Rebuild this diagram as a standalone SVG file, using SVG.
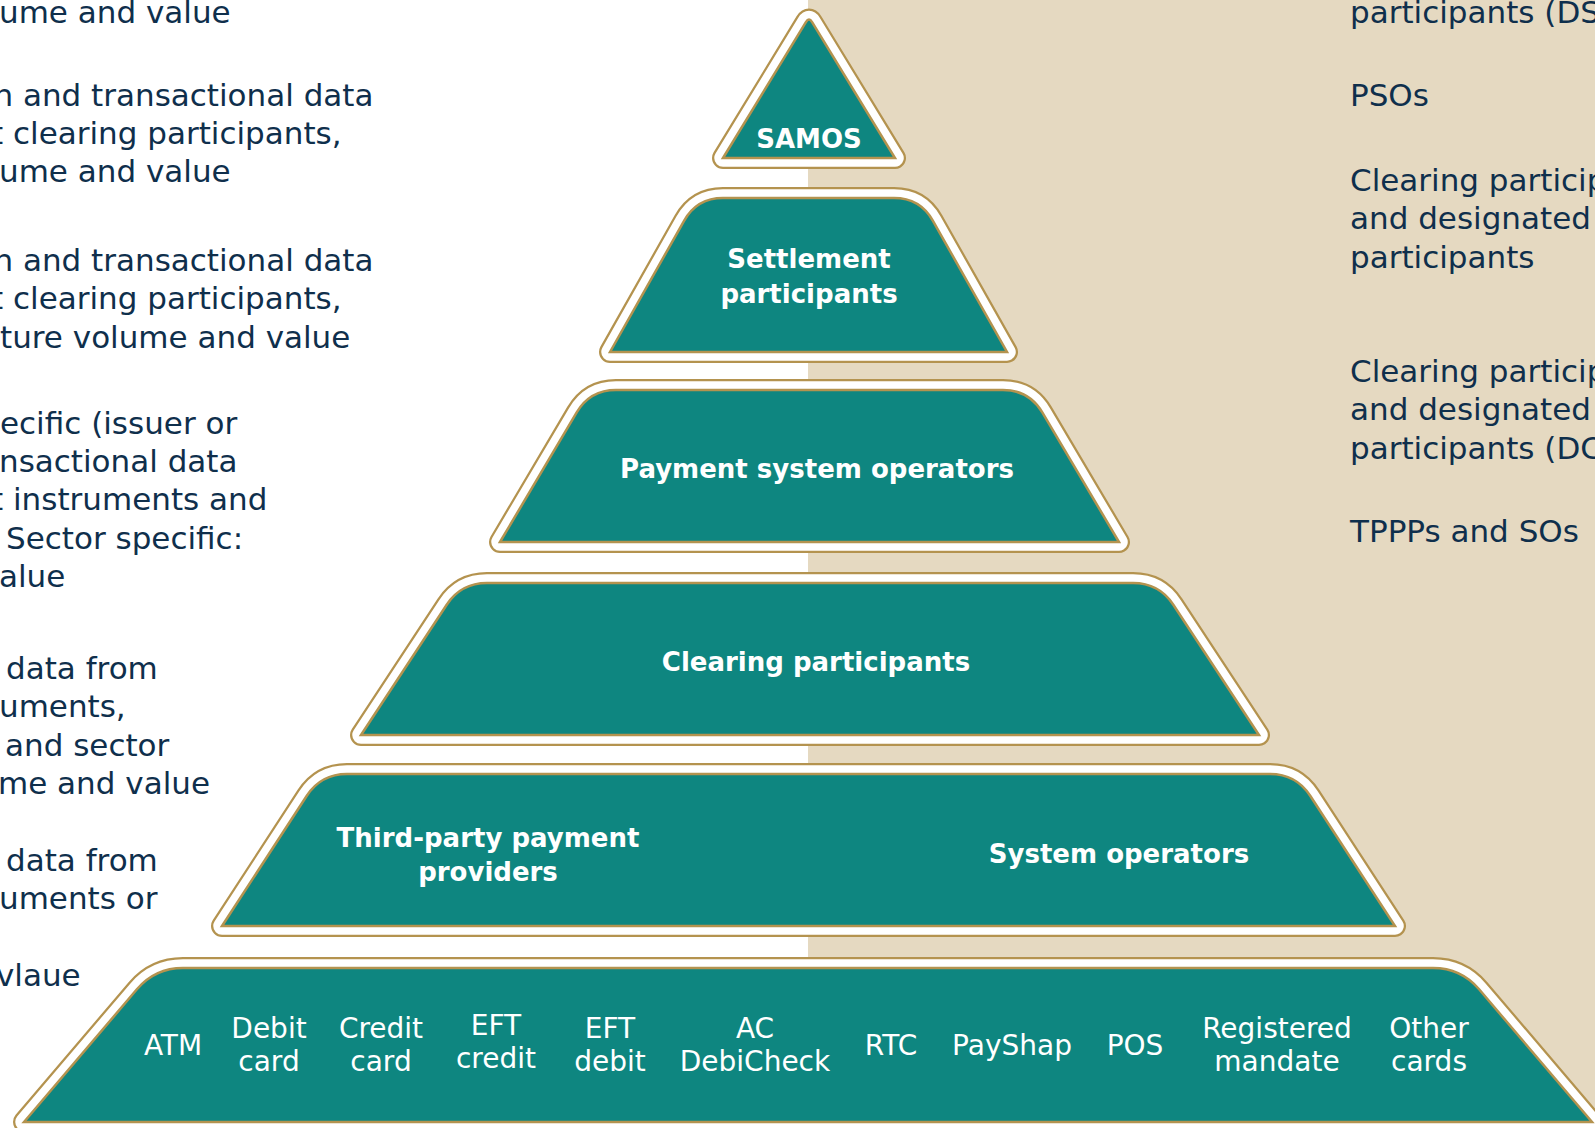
<svg xmlns="http://www.w3.org/2000/svg" width="1595" height="1128" viewBox="0 0 1595 1128">
<style>
.bg{fill:#E5D9C1}
.og{fill:#B4934F;stroke:#B4934F;stroke-width:22;stroke-linejoin:round}
.ow{fill:#FFFFFF;stroke:#FFFFFF;stroke-width:17.5;stroke-linejoin:round}
.in{fill:#0E8680;stroke:#B4934F;stroke-width:2.5;stroke-linejoin:miter}
.lt{font-family:"DejaVu Sans",sans-serif;font-size:31px;fill:#0F2F4C}
.hd{font-family:"DejaVu Sans",sans-serif;font-weight:bold;font-size:26px;fill:#FFFFFF;text-anchor:middle}
.it{font-family:"DejaVu Sans",sans-serif;font-size:28px;fill:#FFFFFF;text-anchor:middle}
</style>
<defs>
<path id="p-samos" d="M 723,158 L 805.9,22.1 Q 809,17 812.1,22.1 L 895,158 Z"/>
<path id="p-settle" d="M 610,352 L 684.2,220.6 Q 697,198 723,198 L 894,198 Q 920,198 932.8,220.6 L 1007,352 Z"/>
<path id="p-pso" d="M 500,542 L 576.7,412.4 Q 590,390 616,390 L 1003,390 Q 1029,390 1042.3,412.4 L 1119,542 Z"/>
<path id="p-clear" d="M 361,735 L 446.7,604.7 Q 461,583 487,583 L 1133,583 Q 1159,583 1173.3,604.7 L 1259,735 Z"/>
<path id="p-tppp" d="M 222,926 L 306.8,795.8 Q 321,774 347,774 L 1270,774 Q 1296,774 1310.2,795.8 L 1395,926 Z"/>
<path id="p-instr" d="M 24,1122 L 136.9,989.3 Q 155,968 183,968 L 1433,968 Q 1461,968 1479.1,989.3 L 1592,1122 Z"/>
</defs>
<rect x="0" y="0" width="1595" height="1128" fill="#FFFFFF"/>
<rect class="bg" x="808" y="0" width="787" height="1128"/>

<g id="left-text">
<text class="lt" x="-1" y="23">ume and value</text>
<text class="lt" x="-6.6" y="106">n and transactional data</text>
<text class="lt" x="-9" y="144">t clearing participants,</text>
<text class="lt" x="-1" y="182">ume and value</text>
<text class="lt" x="-6.6" y="271">n and transactional data</text>
<text class="lt" x="-9" y="309">t clearing participants,</text>
<text class="lt" x="0" y="348">ture volume and value</text>
<text class="lt" x="0" y="434">ecific (issuer or</text>
<text class="lt" x="-1" y="472">nsactional data</text>
<text class="lt" x="-9" y="510">t instruments and</text>
<text class="lt" x="6" y="549">Sector specific:</text>
<text class="lt" x="-1" y="587">alue</text>
<text class="lt" x="6" y="679">data from</text>
<text class="lt" x="-1" y="717">uments,</text>
<text class="lt" x="5" y="756">and sector</text>
<text class="lt" x="-2" y="794">me and value</text>
<text class="lt" x="6" y="871">data from</text>
<text class="lt" x="-1" y="909">uments or</text>
<text class="lt" x="-4" y="986">vlaue</text>
</g>

<g id="right-text">
<text class="lt" x="1350" y="23">participants (DS</text>
<text class="lt" x="1350" y="106">PSOs</text>
<text class="lt" x="1350" y="191">Clearing particip</text>
<text class="lt" x="1350" y="229">and designated</text>
<text class="lt" x="1350" y="268">participants</text>
<text class="lt" x="1350" y="382">Clearing particip</text>
<text class="lt" x="1350" y="420">and designated</text>
<text class="lt" x="1350" y="459">participants (DC</text>
<text class="lt" x="1350" y="542">TPPPs and SOs</text>
</g>

<g id="connectors"></g>

<g id="node-samos">
<use href="#p-samos" class="og"/><use href="#p-samos" class="ow"/><use href="#p-samos" class="in"/>
<text class="hd" x="809" y="148" font-size="25">SAMOS</text>
</g>

<g id="node-settlement">
<use href="#p-settle" class="og"/><use href="#p-settle" class="ow"/><use href="#p-settle" class="in"/>
<text class="hd" x="809" y="268">Settlement</text>
<text class="hd" x="809" y="303">participants</text>
</g>

<g id="node-pso">
<use href="#p-pso" class="og"/><use href="#p-pso" class="ow"/><use href="#p-pso" class="in"/>
<text class="hd" x="817" y="478">Payment system operators</text>
</g>

<g id="node-clearing">
<use href="#p-clear" class="og"/><use href="#p-clear" class="ow"/><use href="#p-clear" class="in"/>
<text class="hd" x="816" y="671">Clearing participants</text>
</g>

<g id="node-tppp-so">
<use href="#p-tppp" class="og"/><use href="#p-tppp" class="ow"/><use href="#p-tppp" class="in"/>
<text class="hd" x="488" y="847">Third-party payment</text>
<text class="hd" x="488" y="881">providers</text>
<text class="hd" x="1119" y="863">System operators</text>
</g>

<g id="node-instruments">
<use href="#p-instr" class="og"/><use href="#p-instr" class="ow"/><use href="#p-instr" class="in"/>
<text class="it" x="173" y="1055">ATM</text>
<text class="it" x="269" y="1038">Debit</text>
<text class="it" x="269" y="1071">card</text>
<text class="it" x="381" y="1038">Credit</text>
<text class="it" x="381" y="1071">card</text>
<text class="it" x="496" y="1035">EFT</text>
<text class="it" x="496" y="1068">credit</text>
<text class="it" x="610" y="1038">EFT</text>
<text class="it" x="610" y="1071">debit</text>
<text class="it" x="755" y="1038">AC</text>
<text class="it" x="755" y="1071">DebiCheck</text>
<text class="it" x="891" y="1055">RTC</text>
<text class="it" x="1012" y="1055">PayShap</text>
<text class="it" x="1135" y="1055">POS</text>
<text class="it" x="1277" y="1038">Registered</text>
<text class="it" x="1277" y="1071">mandate</text>
<text class="it" x="1429" y="1038">Other</text>
<text class="it" x="1429" y="1071">cards</text>
</g>
</svg>
